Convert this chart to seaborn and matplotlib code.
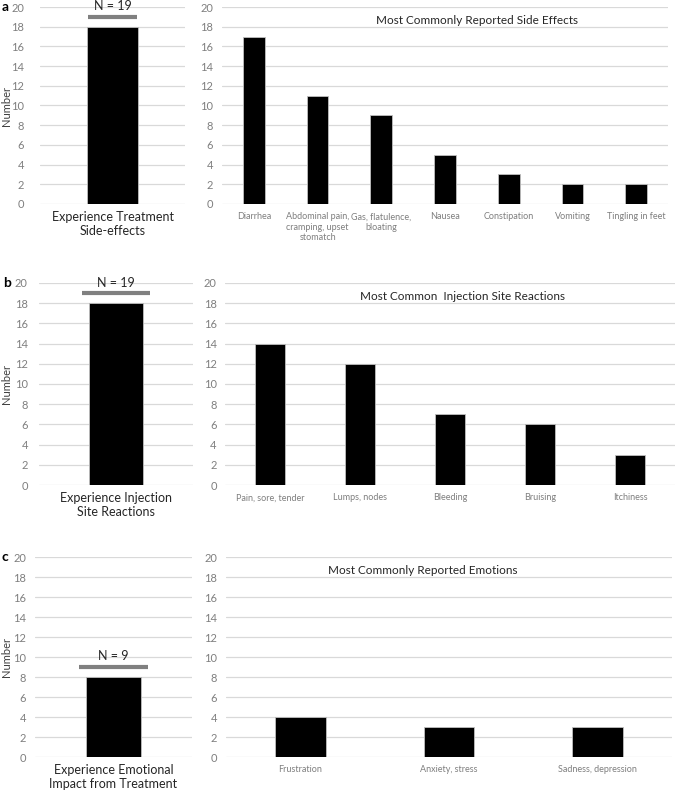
import matplotlib
matplotlib.use("Agg")
import matplotlib.pyplot as plt
import matplotlib.transforms as mtransforms
import seaborn as sns
import pandas as pd

sns.set_theme(style="white")
plt.rcParams['font.family'] = ['Lato', 'DejaVu Sans']

# ---- data ----
left_labels = ["Experience Treatment\nSide-effects",
               "Experience Injection\nSite Reactions",
               "Experience Emotional\nImpact from Treatment"]
left_values = [18, 18, 8]
n_totals = [19, 19, 9]

titles = ["Most Commonly Reported Side Effects",
          "Most Common  Injection Site Reactions",
          "Most Commonly Reported Emotions"]

side_effects = ["Diarrhea", "Abdominal pain,\ncramping, upset\nstomatch",
                "Gas, flatulence,\nbloating", "Nausea", "Constipation",
                "Vomiting", "Tingling in feet"]
side_effect_counts = [17, 11, 9, 5, 3, 2, 2]

injection = ["Pain, sore, tender", "Lumps, nodes", "Bleeding", "Bruising", "Itchiness"]
injection_counts = [14, 12, 7, 6, 3]

emotions = ["Frustration", "Anxiety, stress", "Sadness, depression"]
emotion_counts = [4, 3, 3]

panel_letters = ["a", "b", "c"]
yticks = list(range(0, 21, 2))

right_cats = [side_effects, injection, emotions]
right_vals = [side_effect_counts, injection_counts, emotion_counts]

# ---- layout (pixels) ----
W, H = 677, 795
fig = plt.figure(figsize=(W / 100, H / 100), dpi=100)

rows = [  # (left_x, left_w, right_x, right_w, top, bottom)
    (40, 145, 222, 446, 7, 204),
    (39, 154, 225, 450, 283, 485),
    (35, 157, 226, 446, 557, 757),
]
left_pad = [11.5, 8, 6.5]
right_pad = [6.5, 6, 6.5]
title_pos = [(0.572, 18.6), (0.527, 18.7), (0.442, 18.7)]
n_halfw = [0.17, 0.22, 0.22]
letter_pos = [(2, 7), (3, 283), (2, 557)]

grid_c = "#d9d9d9"
tick_c = "#7f7f7f"
text_c = "#262626"


def style_axes(ax):
    for s in ax.spines.values():
        s.set_visible(False)
    ax.set_ylim(0, 20)
    ax.set_yticks(yticks)
    ax.grid(axis="y", color=grid_c, linewidth=0.9)
    ax.grid(axis="x", visible=False)
    ax.set_axisbelow(True)
    ax.tick_params(axis="both", length=0)
    ax.set_xlabel("")
    ax.set_ylabel("")


for i, (lx, lw, rx, rw, top, bot) in enumerate(rows):
    hgt = bot - top
    axl = fig.add_axes([lx / W, 1 - bot / H, lw / W, hgt / H])
    axr = fig.add_axes([rx / W, 1 - bot / H, rw / W, hgt / H])

    dfl = pd.DataFrame({"cat": [left_labels[i]], "val": [left_values[i]]})
    sns.barplot(data=dfl, x="cat", y="val", color="black", width=0.35,
                edgecolor="#bfbfbf", linewidth=0.6, saturation=1, ax=axl)
    style_axes(axl)
    axl.set_xlim(-0.5, 0.5)
    axl.tick_params(axis="y", labelsize=8, labelcolor=tick_c, pad=left_pad[i])
    axl.tick_params(axis="x", labelsize=9, labelcolor=text_c, pad=5)
    n = n_totals[i]
    axl.plot([-n_halfw[i], n_halfw[i]], [n, n], color="#808080", linewidth=3,
             solid_capstyle="butt")
    axl.text(0, n + 0.45, f"N = {n}", ha="center", va="bottom",
             fontsize=9, color=text_c)

    fig.text(6.5 / W, 1 - (top + hgt / 2) / H, "Number", rotation=90,
             ha="center", va="center", fontsize=8, color="#404040")

    dfr = pd.DataFrame({"cat": right_cats[i], "val": right_vals[i]})
    sns.barplot(data=dfr, x="cat", y="val", color="black", width=0.34,
                edgecolor="#bfbfbf", linewidth=0.6, saturation=1, ax=axr)
    style_axes(axr)
    axr.set_xlim(-0.5, len(right_cats[i]) - 0.5)
    axr.tick_params(axis="y", labelsize=8, labelcolor=tick_c, pad=right_pad[i])
    axr.tick_params(axis="x", labelsize=6.5, labelcolor=tick_c, pad=6)
    tx, ty = title_pos[i]
    axr.text(tx, ty, titles[i],
             transform=mtransforms.blended_transform_factory(axr.transAxes, axr.transData),
             ha="center", va="center", fontsize=8.5, color=text_c)

    px, py = letter_pos[i]
    fig.text(px / W, 1 - py / H, panel_letters[i], fontsize=10, fontweight="bold",
             ha="left", va="center", color="black")

fig.savefig("out.png", dpi=100)
